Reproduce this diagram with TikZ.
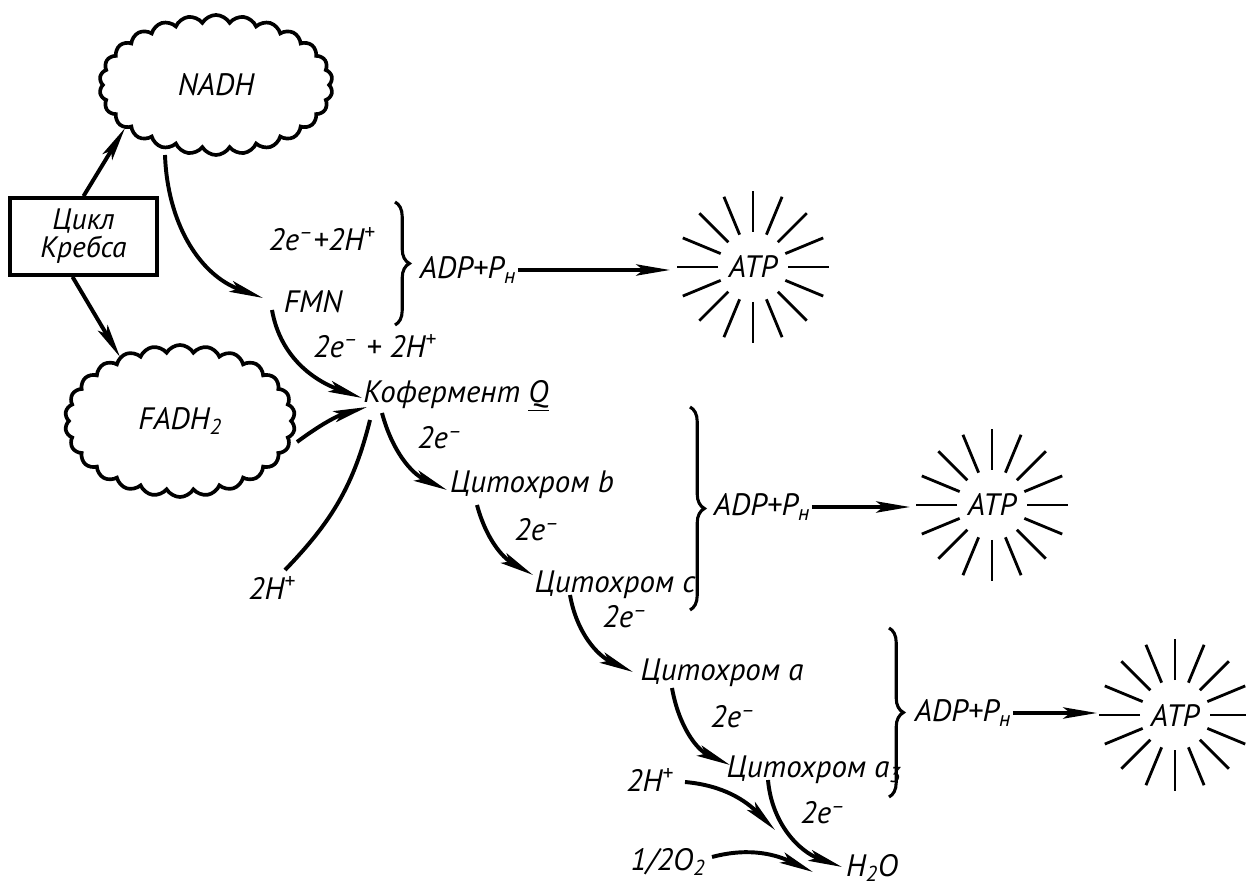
\documentclass[tikz,border=0pt]{standalone}
\usepackage{fontspec}
\setmainfont{PT Sans}
\usepackage{tikz}
\usetikzlibrary{shapes.symbols, arrows.meta, calc, decorations.pathreplacing}

\begin{document}
\begin{tikzpicture}[
x=0.025cm, y=0.025cm,
every node/.style={font=\fontsize{22}{24}\selectfont\itshape, inner sep=1pt},
puff/.style={
    cloud,
    cloud puffs=26,
    cloud puff arc=120,
    cloud ignores aspect,
    draw=black,
    line width=2.6pt
},
krebsbox/.style={
    rectangle,
    draw=black,
    line width=2.6pt,
    minimum width=3.675cm,
    minimum height=1.925cm,
    align=center,
    font=\fontsize{21}{20}\selectfont\itshape
},
arrow/.style={
    -{Stealth[length=24pt,width=8pt,inset=5pt]},
    line width=2.8pt
},
link/.style={line width=2.8pt},
bracket/.style={
    decorate,
    decoration={brace, amplitude=0.36cm},
    line width=2.2pt
},
ray/.style={line width=2pt}
]
\useasboundingbox (0,0) rectangle (1246,888);
\clip (0,0) rectangle (1246,888);

% sources
\node (nadh) [puff, minimum width=5.83cm, minimum height=3.5cm] at (216,803) {NADH};
\node (fadh) [puff, minimum width=5.75cm, minimum height=3.8cm] at (180,467) {FADH\textsubscript{2}};
\node (krebs) [krebsbox] at (83.5,651.5) {Цикл\\Кребса};

% chain
\node (fmn) at (313,586) {FMN};
\node (pair1) at (322,649) {2e\textsuperscript{–}+2H\textsuperscript{+}};
\node (pair2) at (375,542) {2e\textsuperscript{–} + 2H\textsuperscript{+}};
\node (coq) at (456,492) {Кофермент \underline{Q}};
\node (hplus) at (272,300) {2H\textsuperscript{+}};
\node (e1) at (440,450) {2e\textsuperscript{–}};
\node (cytb) at (532,403) {Цитохром b};
\node (e2) at (537,358) {2e\textsuperscript{–}};
\node (cytc) at (615,303) {Цитохром c};
\node (e3) at (625,271) {2e\textsuperscript{–}};
\node (cyta) at (722,215) {Цитохром a};
\node (e4) at (733,171) {2e\textsuperscript{–}};
\node (cyta3) at (814,118) {Цитохром a\textsubscript{3}};
\node (e5) at (823,75) {2e\textsuperscript{–}};
\node (hplusb) at (650,108) {2H\textsuperscript{+}};
\node (oxy) at (668,26) {1/2O\textsubscript{2}};
\node (water) at (872,20) {H\textsubscript{2}O};

% phosphorylation
\node (adp1) at (468,618) {ADP+P\textsubscript{н}};
\node (adp2) at (762,381) {ADP+P\textsubscript{н}};
\node (adp3) at (963,175) {ADP+P\textsubscript{н}};
\node (atp1) at (753,621) {ATP};
\node (atp2) at (992,383) {ATP};
\node (atp3) at (1175,173) {ATP};

\draw [arrow] (krebs.north) -- ($(nadh)+(-91,-43)$);
\draw [arrow] ($(krebs.south)+(-11,0)$) -- ($(fadh)+(-60,64)$);
\draw [arrow] ($(nadh)+(-51,-70)$) to[out=-88,in=160] ($(fmn)+(-50,4)$);
\draw [arrow] ($(fmn)+(-41,-8)$) to[out=-80,in=160] ($(coq)+(-94,-2)$);
\draw [arrow] ($(fadh)+(117,-21)$) to[bend left=10] ($(coq)+(-89,-11)$);
\draw [link] ($(hplus)+(13,18)$) to[out=46,in=-104] ($(coq)+(-86,-24)$);
\draw [arrow] ($(coq)+(-74,-17)$) to[out=-75,in=155] ($(cytb)+(-85,-5)$);
\draw [arrow] ($(cytb)+(-55,-20)$) to[out=-75,in=150] ($(cytc)+(-82,10)$);
\draw [arrow] ($(cytc)+(-45,-10)$) to[out=-80,in=155] ($(cyta)+(-89,1)$);
\draw [arrow] ($(cyta)+(-50,-15)$) to[out=-80,in=155] ($(cyta3)+(-84,5)$);
\draw [arrow] ($(cyta3)+(-46,-10)$) to[out=-85,in=160] ($(water)+(-30,1)$);
\draw [arrow] ($(hplusb)+(35,-2)$) to[out=-5,in=135] ($(water)+(-97,38)$);
\draw [arrow] ($(oxy)+(44,5)$) to[out=15,in=155] ($(water)+(-59,-4)$);

\draw [arrow] (adp1.east) -- ($(adp1.east -| atp1)+(-83,0)$);
\draw [arrow] (adp2.east) -- ($(adp2.east -| atp2)+(-82,0)$);
\draw [arrow] (adp3.east) -- ($(adp3.east -| atp3)+(-78,0)$);

\draw [bracket] (395,686) -- (395,563);
\draw [bracket] (690,481) -- (690,278);
\draw [bracket] (889,260) -- (889,91);

\foreach \c in {atp1,atp2,atp3}
  \foreach \a in {0,22.5,...,337.5}
    \draw [ray] (\c) ++(\a:35) -- ++(\a:41);

\end{tikzpicture}
\end{document}
